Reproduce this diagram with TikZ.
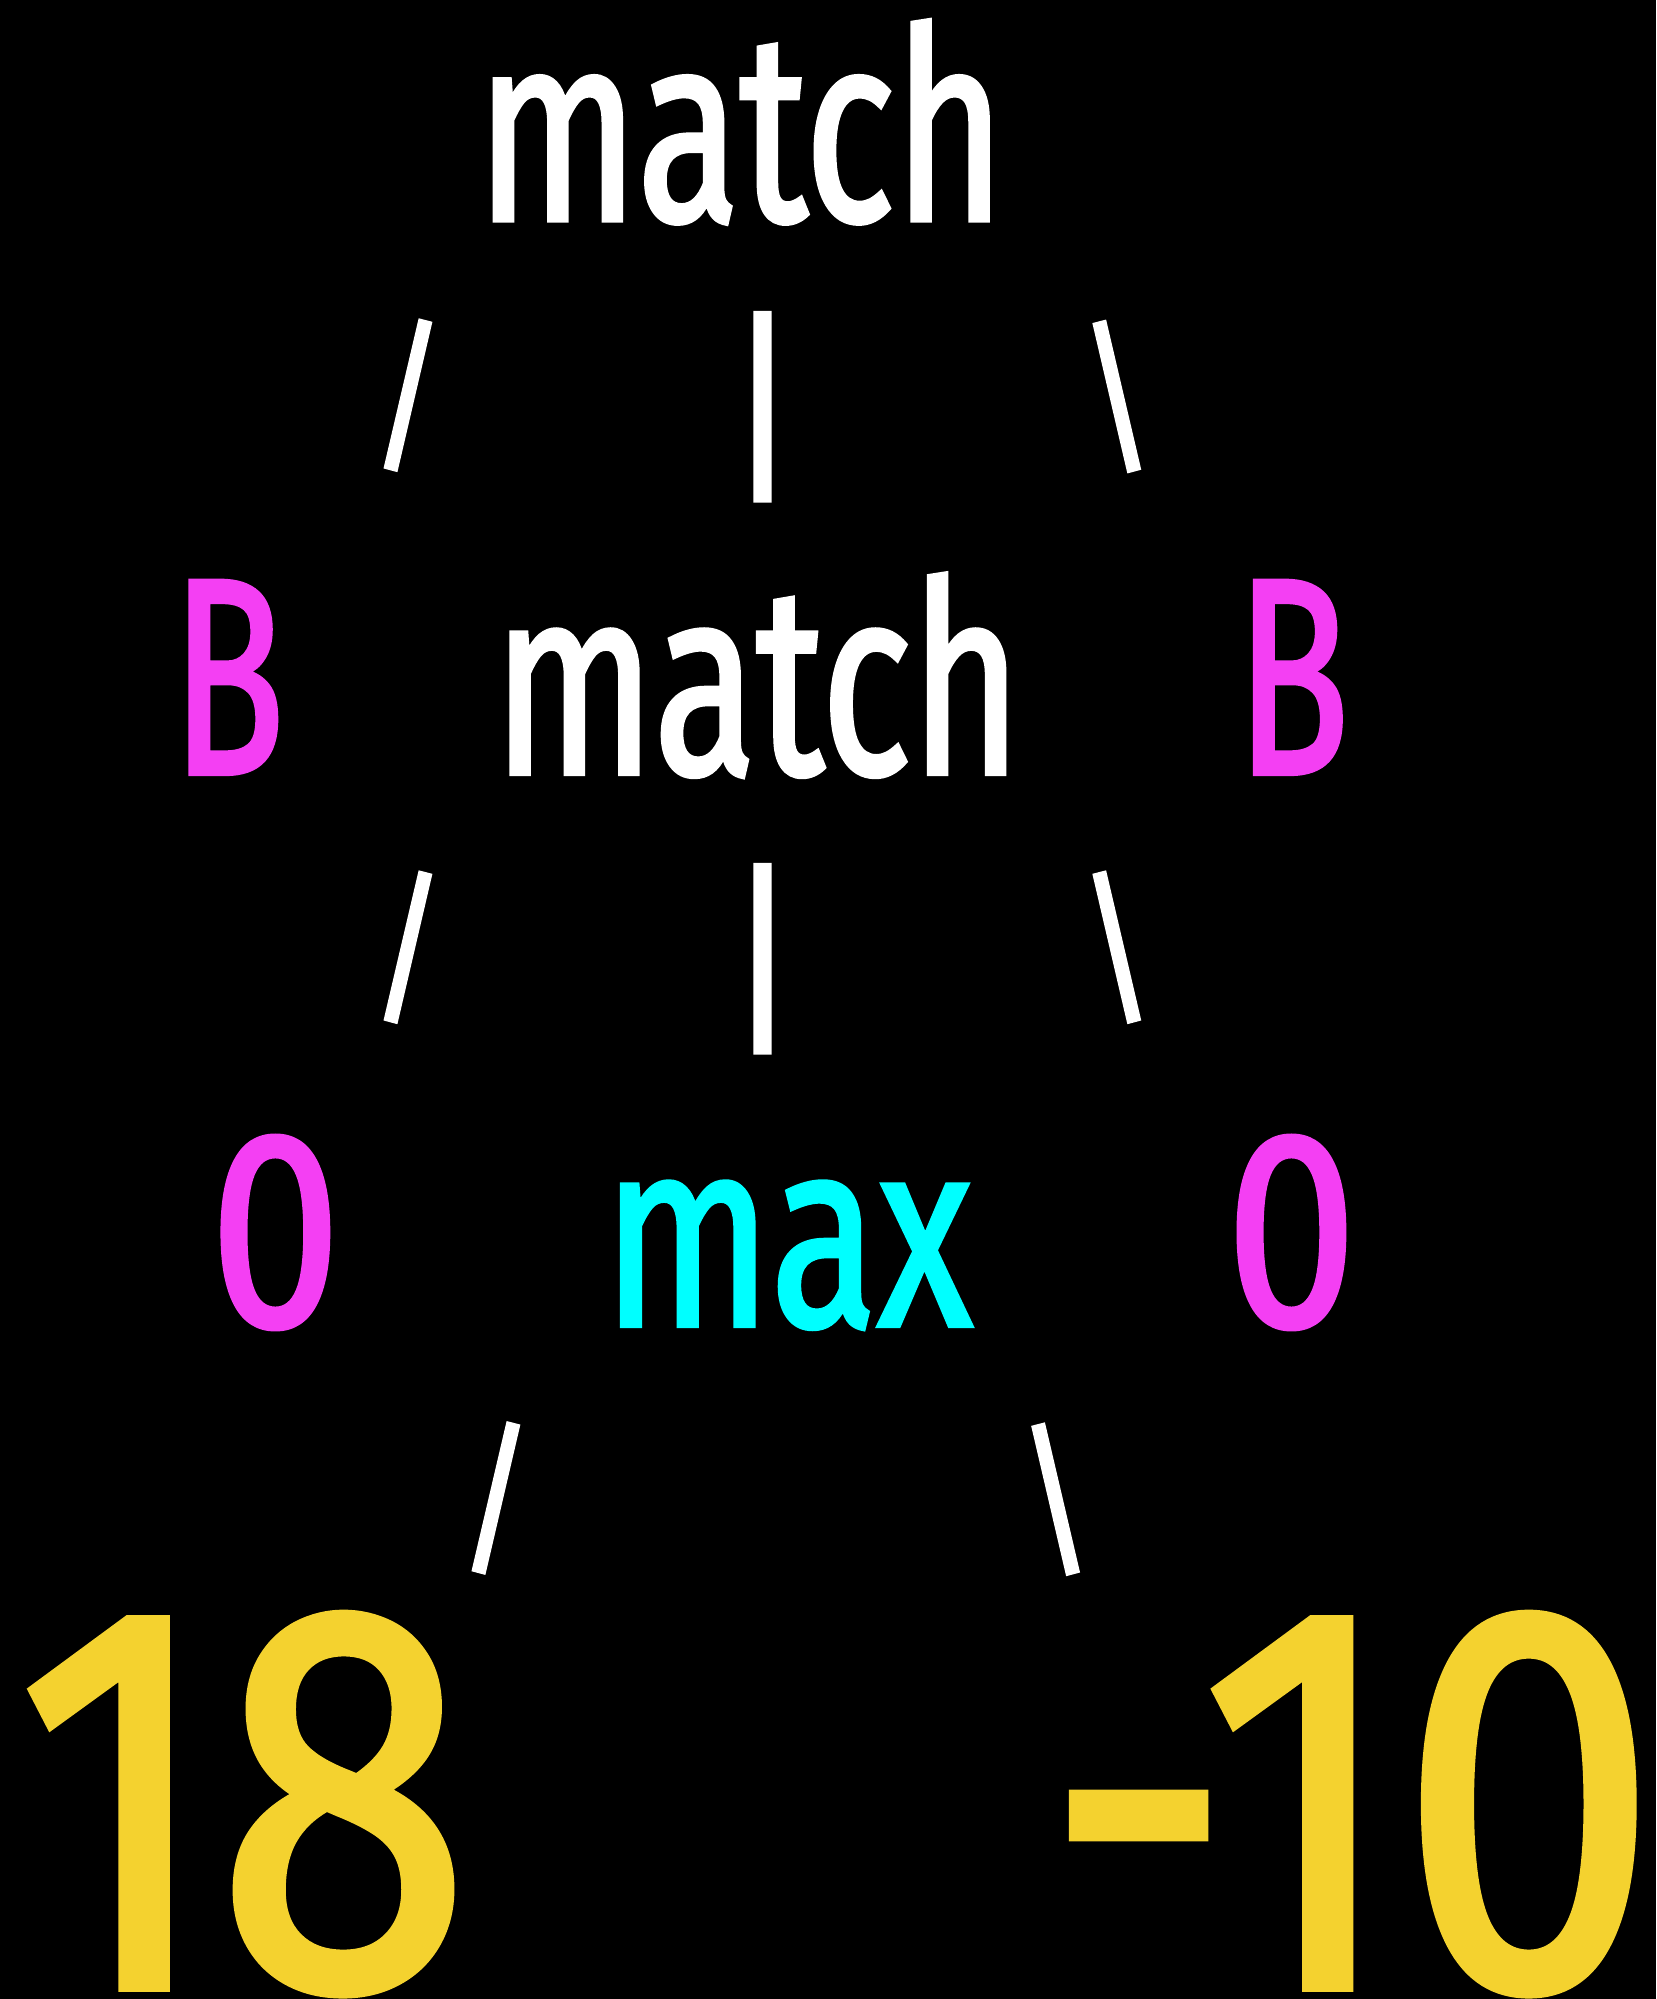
\documentclass[tikz,border=0pt]{standalone}
\usepackage{fontspec}
\setmainfont{Fira Sans}
\newfontfamily\wordf{Fira Sans}[FakeStretch=0.70, FakeBold=1.6]
\newfontfamily\maxf{Fira Sans}[FakeStretch=0.73, FakeBold=1.6]
\newfontfamily\letterf{Fira Sans}[FakeStretch=0.66, FakeBold=1.6]
\newfontfamily\digitf{Fira Sans}[FakeStretch=0.84, FakeBold=1.6]
\newfontfamily\edgef{Fira Sans}[FakeStretch=0.9, FakeBold=1.3]
\definecolor{magc}{HTML}{F43FF3}
\definecolor{cyanc}{HTML}{00FFFF}
\definecolor{yelc}{HTML}{F4D22F}
\tikzset{
  txt/.style={inner sep=0pt, outer sep=0pt, anchor=base},
  slashglyph/.style={inner sep=0pt, outer sep=0pt, anchor=center, text=white, font=\edgef\fontsize{166}{166}\selectfont},
  barglyph/.style={inner sep=0pt, outer sep=0pt, anchor=center, text=white, font=\edgef\fontsize{208}{208}\selectfont},
  wordfont/.style={font=\wordf\fontsize{268}{268}\selectfont},
  maxfont/.style={font=\maxf\fontsize{268}{268}\selectfont},
  letterfont/.style={font=\letterf\fontsize{280}{280}\selectfont},
  zerofont/.style={font=\digitf\fontsize{280}{280}\selectfont},
  bigfont/.style={font=\digitf\fontsize{550}{550}\selectfont, text depth=0pt}
}
\begin{document}
\begin{tikzpicture}[x=1.2748pt,y=-1.2748pt]
\fill[black] (0,0) rectangle (1299,1568);
\useasboundingbox (0,0) rectangle (1299,1568);
% row 1
\node[txt, wordfont, text=white] (m1) at (581,173) {match};
\node[slashglyph] (e1l) at (320,310) {/};
\node[barglyph] (e1m) at (598,319) {|};
\node[slashglyph] (e1r) at (876,311) {\textbackslash};
% row 2
\node[txt, letterfont, text=magc] (b1) at (179,607) {B};
\node[txt, wordfont, text=white] (m2) at (594,607) {match};
\node[txt, letterfont, text=magc] (b2) at (1014,607) {B};
\node[slashglyph] (e2l) at (320,743) {/};
\node[barglyph] (e2m) at (598,752) {|};
\node[slashglyph] (e2r) at (876,743) {\textbackslash};
% row 3
\node[txt, zerofont, text=magc] (z1) at (216,1040) {0};
\node[txt, maxfont, text=cyanc] (mx) at (618,1040) {max};
\node[txt, zerofont, text=magc] (z2) at (1013,1040) {0};
\node[slashglyph] (e3l) at (389,1175) {/};
\node[slashglyph] (e3r) at (828,1176) {\textbackslash};
% row 4
\node[txt, bigfont, text=yelc] (n1) at (191,1559) {18};
\node[txt, bigfont, text=yelc] (n2) at (1060,1559) {-10};
\end{tikzpicture}
\end{document}
